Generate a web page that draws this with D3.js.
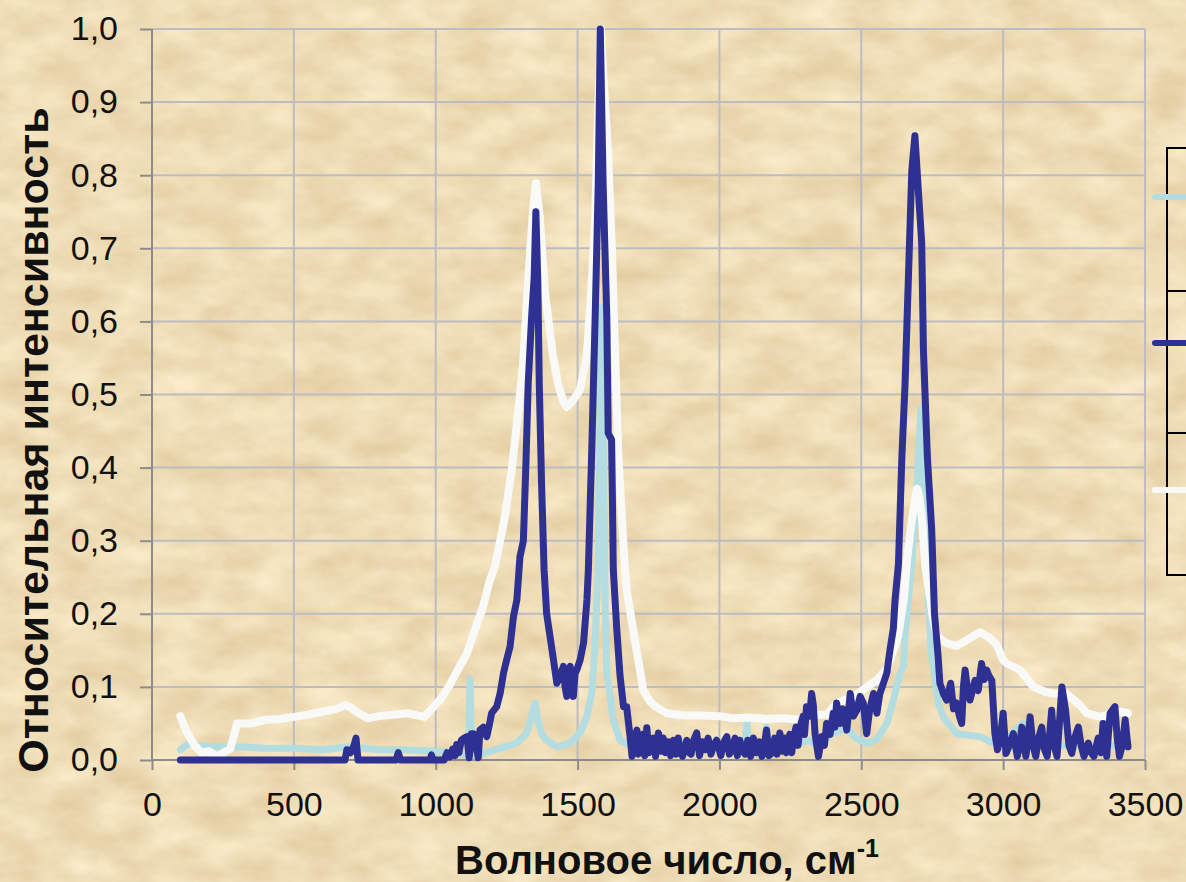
<!DOCTYPE html>
<html>
<head>
<meta charset="utf-8">
<script src="https://cdn.jsdelivr.net/npm/d3@7"></script>
<style>
  html, body { margin: 0; padding: 0; background: #efdcb6; overflow: hidden; }
  svg { display: block; font-family: Arial, 'Liberation Sans', sans-serif; }
</style>
</head>
<body>
<svg id="chart" width="1186" height="882"></svg>
<script>
// [wavenumber, relative intensity]
const cyanSeries = [
  [100, 0.014], [130, 0.023], [200, 0.018], [300, 0.018], [400, 0.016], [500, 0.016],
  [600, 0.014], [700, 0.018], [800, 0.014], [900, 0.014], [1000, 0.012], [1080, 0.01],
  [1115, 0.005], [1121, 0.11], [1127, 0.005], [1168, 0.009], [1227, 0.016], [1286, 0.023],
  [1321, 0.037], [1338, 0.06], [1350, 0.078], [1360, 0.055], [1375, 0.035], [1391, 0.027],
  [1427, 0.018], [1473, 0.023], [1509, 0.037], [1532, 0.059], [1550, 0.091], [1562, 0.16],
  [1573, 0.27], [1580, 0.5], [1585, 0.62], [1592, 0.4], [1598, 0.2], [1603, 0.12],
  [1626, 0.055], [1650, 0.027], [1697, 0.018], [1750, 0.02], [1800, 0.025], [1900, 0.02],
  [2000, 0.025], [2090, 0.02], [2097, 0.05], [2105, 0.02], [2160, 0.02], [2166, 0.045],
  [2172, 0.02], [2250, 0.02], [2319, 0.027], [2343, 0.02], [2401, 0.037], [2449, 0.043],
  [2480, 0.03], [2520, 0.023], [2555, 0.028], [2590, 0.05], [2612, 0.08], [2630, 0.11],
  [2648, 0.128], [2654, 0.17], [2678, 0.268], [2695, 0.365], [2710, 0.48], [2725, 0.317],
  [2736, 0.219], [2748, 0.141], [2754, 0.128], [2770, 0.08], [2789, 0.059], [2837, 0.036],
  [2918, 0.032], [2966, 0.023], [3000, 0.025], [3071, 0.05], [3080, 0.02], [3200, 0.02],
  [3300, 0.02], [3440, 0.02]
]

const blueSeries = [
  [100, 0], [600, 0], [680, 0], [687, 0.014], [700, 0.01], [712, 0.02], [719, 0.03], [726, 0],
  [860, 0], [868, 0.01], [876, 0], [980, 0], [985, 0.007], [990, 0], [1030, 0], [1040, 0.01],
  [1050, 0.004], [1060, 0.015], [1068, 0.006], [1074, 0.021], [1082, 0.01], [1090, 0.027],
  [1100, 0.03], [1110, 0.032], [1118, 0.003], [1126, 0.036], [1133, 0.036], [1142, 0.02],
  [1150, 0.003], [1156, 0.041], [1168, 0.045], [1180, 0.032], [1190, 0.05],
  [1197, 0.064], [1215, 0.073], [1227, 0.091], [1239, 0.119], [1250, 0.137], [1262, 0.155],
  [1274, 0.196], [1286, 0.219], [1297, 0.278], [1309, 0.3], [1318, 0.406], [1326, 0.515],
  [1338, 0.606], [1347, 0.66], [1353, 0.75], [1360, 0.652], [1365, 0.515], [1373, 0.379],
  [1382, 0.26], [1391, 0.2], [1403, 0.169], [1415, 0.137], [1427, 0.105], [1438, 0.114],
  [1450, 0.128], [1456, 0.1], [1462, 0.087], [1468, 0.12], [1474, 0.128], [1480, 0.1],
  [1485, 0.087], [1491, 0.118], [1497, 0.123], [1509, 0.137],
  [1521, 0.16], [1533, 0.219], [1538, 0.26], [1550, 0.424], [1562, 0.606], [1573, 0.789],
  [1580, 1.0], [1590, 0.789], [1603, 0.606], [1608, 0.447], [1620, 0.438], [1626, 0.26],
  [1638, 0.18], [1650, 0.114], [1662, 0.073], [1673, 0.073], [1685, 0.032], [1692, 0.005],
  [1700, 0.03], [1709, 0.041], [1714, 0.008], [1720, 0.014], [1730, 0.035], [1737, 0.006],
  [1744, 0.044], [1752, 0.01], [1760, 0.014], [1768, 0.03], [1775, 0.005], [1785, 0.037],
  [1795, 0.012], [1802, 0.03], [1810, 0.01], [1820, 0.025], [1828, 0.006], [1838, 0.027],
  [1848, 0.008], [1855, 0.03], [1860, 0.014], [1870, 0.005], [1885, 0.027], [1893, 0.01],
  [1900, 0.008], [1910, 0.028], [1920, 0.037], [1930, 0.006], [1940, 0.025], [1950, 0.014],
  [1960, 0.03], [1970, 0.008], [1980, 0.02], [1990, 0.027], [2005, 0.006], [2015, 0.024],
  [2026, 0.032], [2035, 0.008], [2045, 0.014], [2055, 0.03], [2063, 0.006], [2072, 0.027],
  [2082, 0.012], [2090, 0.008], [2100, 0.027], [2110, 0.005], [2120, 0.03], [2130, 0.01],
  [2140, 0.025], [2150, 0.005], [2158, 0.02], [2166, 0.041], [2175, 0.006], [2185, 0.01],
  [2195, 0.03], [2203, 0.008], [2213, 0.037], [2222, 0.012], [2230, 0.03], [2236, 0.01],
  [2248, 0.035], [2255, 0.01], [2260, 0.027], [2270, 0.045], [2277, 0.02],
  [2284, 0.045], [2295, 0.06], [2300, 0.035], [2307, 0.073], [2318, 0.06], [2325, 0.091],
  [2331, 0.075], [2337, 0.036], [2343, 0.02], [2349, 0.005],
  [2361, 0.032], [2370, 0.02], [2378, 0.05], [2390, 0.035], [2401, 0.064], [2407, 0.045],
  [2413, 0.078], [2425, 0.05], [2435, 0.07], [2449, 0.041],
  [2461, 0.091], [2472, 0.06], [2484, 0.068], [2496, 0.087], [2507, 0.078], [2519, 0.036],
  [2530, 0.07], [2543, 0.091], [2555, 0.064], [2565, 0.09], [2578, 0.105], [2590, 0.119],
  [2601, 0.15], [2613, 0.18], [2619, 0.219],
  [2631, 0.268], [2643, 0.414], [2654, 0.512], [2666, 0.659], [2678, 0.806], [2689, 0.854],
  [2700, 0.786], [2713, 0.707], [2719, 0.561], [2733, 0.414], [2748, 0.317], [2758, 0.2],
  [2771, 0.141], [2777, 0.105], [2790, 0.09], [2801, 0.082], [2815, 0.105], [2825, 0.07],
  [2836, 0.078], [2846, 0.06], [2854, 0.05], [2860, 0.1],
  [2866, 0.123], [2875, 0.095], [2883, 0.082], [2901, 0.109], [2912, 0.095], [2924, 0.132],
  [2933, 0.11], [2942, 0.123], [2950, 0.115], [2960, 0.109],
  [2971, 0.036], [2980, 0.014], [2990, 0.03], [3000, 0.064], [3010, 0.009], [3022, 0.02],
  [3036, 0.036], [3050, 0.005], [3058, 0.02],
  [3066, 0.045], [3080, 0.005], [3088, 0.03], [3095, 0.059], [3105, 0.02], [3115, 0.005],
  [3125, 0.03], [3136, 0.045], [3145, 0.015], [3155, 0.005], [3163, 0.03],
  [3171, 0.068], [3180, 0.02], [3190, 0.005], [3200, 0.06], [3207, 0.1], [3220, 0.068],
  [3232, 0.02], [3242, 0.009], [3252, 0.03], [3265, 0.045],
  [3275, 0.02], [3285, 0.005], [3300, 0.023], [3310, 0.01], [3320, 0.005], [3335, 0.03],
  [3345, 0.01], [3352, 0.05], [3365, 0.005], [3377, 0.064],
  [3394, 0.073], [3402, 0.03], [3410, 0.005], [3420, 0.02], [3430, 0.055], [3440, 0.018]
]

const whiteSeries = [
  [100, 0.06], [120, 0.04], [150, 0.02], [175, 0.01], [200, 0.012], [230, 0.005], [260, 0.012],
  [275, 0.015], [290, 0.035], [300, 0.05], [350, 0.05], [400, 0.055], [450, 0.056], [500, 0.059],
  [550, 0.062], [600, 0.066], [650, 0.07], [680, 0.075], [700, 0.072], [720, 0.066], [760, 0.057],
  [800, 0.06], [850, 0.062], [900, 0.064], [960, 0.059], [991, 0.072], [1020, 0.085],
  [1050, 0.103], [1080, 0.125], [1110, 0.146], [1140, 0.18], [1167, 0.21], [1190, 0.245],
  [1209, 0.265], [1244, 0.333], [1269, 0.4], [1290, 0.474], [1308, 0.543], [1325, 0.65],
  [1343, 0.752], [1353, 0.789], [1367, 0.743], [1385, 0.64], [1414, 0.551], [1431, 0.515],
  [1450, 0.49], [1462, 0.483], [1484, 0.492], [1508, 0.506], [1532, 0.551], [1550, 0.652],
  [1562, 0.743], [1572, 0.88], [1582, 1.0], [1592, 0.93], [1607, 0.834], [1621, 0.698],
  [1632, 0.56], [1643, 0.424], [1656, 0.333], [1667, 0.26], [1674, 0.23], [1695, 0.18],
  [1720, 0.123], [1731, 0.096], [1755, 0.08], [1779, 0.072], [1815, 0.064], [1872, 0.061],
  [1931, 0.061], [2000, 0.06], [2049, 0.057], [2100, 0.058], [2166, 0.056], [2230, 0.057],
  [2284, 0.055], [2305, 0.06], [2320, 0.07], [2340, 0.062], [2379, 0.062], [2413, 0.078],
  [2450, 0.083], [2484, 0.09], [2520, 0.1], [2554, 0.109], [2590, 0.125], [2613, 0.15],
  [2630, 0.17], [2650, 0.22], [2660, 0.268], [2672, 0.31], [2690, 0.36], [2697, 0.371],
  [2705, 0.36], [2714, 0.33], [2725, 0.268], [2735, 0.24], [2753, 0.194], [2766, 0.169],
  [2800, 0.16], [2836, 0.156], [2872, 0.164], [2918, 0.175], [2950, 0.168], [2977, 0.158],
  [3000, 0.137], [3013, 0.132], [3060, 0.123], [3107, 0.1], [3150, 0.093], [3177, 0.091],
  [3224, 0.09], [3271, 0.075], [3294, 0.064], [3341, 0.059], [3389, 0.064], [3415, 0.066],
  [3440, 0.064]
]

const xTicks = [0, 500, 1000, 1500, 2000, 2500, 3000, 3500]
const yTicks = [0, 0.1, 0.2, 0.3, 0.4, 0.5, 0.6, 0.7, 0.8, 0.9, 1.0]

const svg = d3.select('#chart')

// parchment background
const defs = svg.append('defs')
const paper = defs.append('filter')
  .attr('id', 'paper')
  .attr('x', 0).attr('y', 0).attr('width', '100%').attr('height', '100%')
  .attr('color-interpolation-filters', 'sRGB')
paper.append('feTurbulence')
  .attr('type', 'fractalNoise')
  .attr('baseFrequency', '0.02 0.035')
  .attr('numOctaves', 4)
  .attr('seed', 7)
paper.append('feColorMatrix')
  .attr('type', 'matrix')
  .attr('values', '0.12 0 0 0 0.875  0.16 0 0 0 0.785  0.21 0 0 0 0.61  0 0 0 0 1')

svg.append('rect')
  .attr('width', 1186).attr('height', 882)
  .attr('filter', 'url(#paper)')

const margin = { left: 152, top: 29, right: 41, bottom: 122 }
const width = 1186 - margin.left - margin.right
const height = 882 - margin.top - margin.bottom

const x = d3.scaleLinear().domain([0, 3500]).range([0, width])
const y = d3.scaleLinear().domain([0, 1]).range([height, 0])

const g = svg.append('g')
  .attr('transform', 'translate(' + margin.left + ',' + margin.top + ')')

// grid
g.append('g')
  .selectAll('line')
  .data(yTicks.filter(d => d > 0))
  .enter().append('line')
  .attr('x1', 0).attr('x2', width)
  .attr('y1', d => y(d)).attr('y2', d => y(d))
  .attr('stroke', '#bdbcc0').attr('stroke-width', 2)

g.append('g')
  .selectAll('line')
  .data(xTicks.filter(d => d > 0))
  .enter().append('line')
  .attr('x1', d => x(d)).attr('x2', d => x(d))
  .attr('y1', 0).attr('y2', height)
  .attr('stroke', '#bdbcc0').attr('stroke-width', 2)

// axes
const fmt = d => d3.format('.1f')(d).replace('.', ',')

const yAxis = g.append('g')
  .call(d3.axisLeft(y).tickValues(yTicks).tickFormat(fmt).tickSize(12).tickPadding(22))
const xAxis = g.append('g')
  .attr('transform', 'translate(0,' + height + ')')
  .call(d3.axisBottom(x).tickValues(xTicks).tickFormat(d3.format('d')).tickSize(10).tickPadding(22))

;[yAxis, xAxis].forEach(a => {
  a.select('.domain').attr('stroke', '#8c8c8c').attr('stroke-width', 2)
  a.selectAll('.tick line').attr('stroke', '#8c8c8c').attr('stroke-width', 2)
  a.selectAll('.tick text')
    .attr('fill', '#111')
    .style('font-size', '34px')
    .style('font-family', 'Arial, "Liberation Sans", sans-serif')
})
yAxis.select('.domain').attr('d', 'M0,' + height + 'V0')
xAxis.select('.domain').attr('d', 'M0,0H' + width)

// series: cyan underneath, then white, dark blue on top
const line = d3.line()
  .x(d => x(d[0]))
  .y(d => y(d[1]))

const series = [
  { data: cyanSeries, color: '#b3dde0', w: 7 },
  { data: whiteSeries, color: '#f9f9f8', w: 8 },
  { data: blueSeries, color: '#2e3192', w: 7 }
]

g.selectAll('.series')
  .data(series)
  .enter().append('path')
  .attr('class', 'series')
  .attr('d', d => line(d.data))
  .attr('fill', 'none')
  .attr('stroke', d => d.color)
  .attr('stroke-width', d => d.w)
  .attr('stroke-linejoin', 'round')
  .attr('stroke-linecap', 'round')

// axis titles
svg.append('text')
  .attr('transform', 'translate(48,440) rotate(-90)')
  .attr('text-anchor', 'middle')
  .style('font-size', '43px')
  .style('font-weight', 'bold')
  .attr('fill', '#111')
  .text('Относительная интенсивность')

const xt = svg.append('text')
  .attr('x', 667)
  .attr('y', 874)
  .attr('text-anchor', 'middle')
  .style('font-size', '40px')
  .style('font-weight', 'bold')
  .attr('fill', '#111')
xt.append('tspan').text('Волновое число, см')
xt.append('tspan').attr('dy', -17).style('font-size', '25px').text('-1')

// legend (cut by the right edge)
const legend = svg.append('g')
legend.append('rect')
  .attr('x', 1167).attr('y', 148)
  .attr('width', 60).attr('height', 427)
  .attr('fill', 'none').attr('stroke', '#000').attr('stroke-width', 2)
legend.selectAll('.sep')
  .data([291, 433])
  .enter().append('line')
  .attr('x1', 1167).attr('x2', 1227)
  .attr('y1', d => d).attr('y2', d => d)
  .attr('stroke', '#000').attr('stroke-width', 2)
legend.selectAll('.key')
  .data([{ c: '#b3dde0', y: 197 }, { c: '#2e3192', y: 343 }, { c: '#f9f9f8', y: 490 }])
  .enter().append('line')
  .attr('x1', 1155).attr('x2', 1200)
  .attr('y1', d => d.y).attr('y2', d => d.y)
  .attr('stroke', d => d.c).attr('stroke-width', 6)
  .attr('stroke-linecap', 'round')
</script>
</body>
</html>
